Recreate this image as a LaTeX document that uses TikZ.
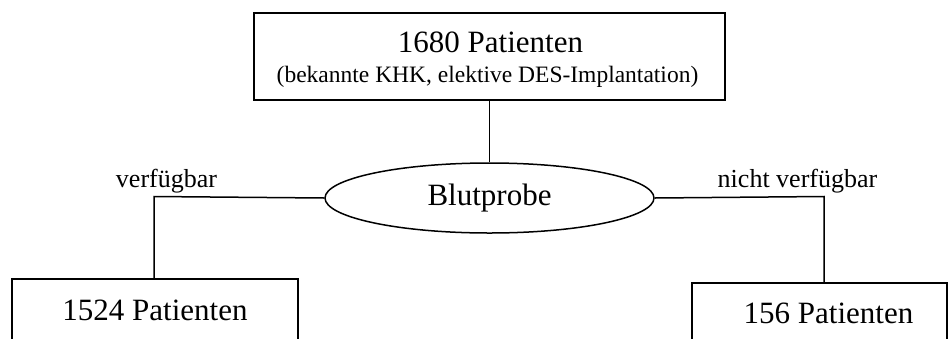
\documentclass[tikz,border=0pt]{standalone}
\usepackage{fontspec}
\setmainfont{Liberation Serif}
\usetikzlibrary{shapes.geometric}
\tikzset{
  x=1pt, y=-1pt,
  line/.style={line width=1.5pt},
  boxframe/.style={draw, line width=1.5pt},
  big/.style={inner sep=0pt, anchor=base, font=\fontsize{31}{33}\selectfont},
  lbl/.style={font=\fontsize{26}{28}\selectfont, inner sep=0pt, anchor=base},
}
\begin{document}
\begin{tikzpicture}
\useasboundingbox (0,0) rectangle (949,338);
\clip (0,0) rectangle (949,338);
\fill[white] (0,0) rectangle (949,338);

% patient total box
\draw[boxframe] (254,13) rectangle (725,100);
\coordinate (topc) at (489.5,100);
\node[big] (title) at (490.5,52) {1680 Patienten};
\node[inner sep=0pt, anchor=base, font=\fontsize{23.5}{25}\selectfont] (sub) at (487.5,82) {(bekannte KHK, elektive DES-Implantation)};

% blood sample
\node[draw, line width=1.5pt, ellipse, minimum width=329pt, minimum height=70pt, inner sep=0pt, font=\fontsize{31}{33}\selectfont] (blut) at (489.5,198) {Blutprobe};

% result boxes, running below the lower edge
\draw[boxframe] (12,279) rectangle (298,360);
\draw[boxframe] (692,283) rectangle (947,360);
\node[big] (left) at (155,320) {1524 Patienten};
\node[big] (right) at (828.5,323) {156 Patienten};

\coordinate (ltop) at (154,279);
\coordinate (rtop) at (824,283);
\coordinate (lcorner) at (154,196.5);
\coordinate (rcorner) at (824,196.5);

% connectors
\draw[line] (topc) -- (blut.north);
\draw[line] (blut.west) -- (lcorner) -- (ltop);
\draw[line] (blut.east) -- (rcorner) -- (rtop);

\node[lbl] (lv) at (166.5,187) {verfügbar};
\node[lbl] (rv) at (797.5,187) {nicht verfügbar};
\end{tikzpicture}
\end{document}
